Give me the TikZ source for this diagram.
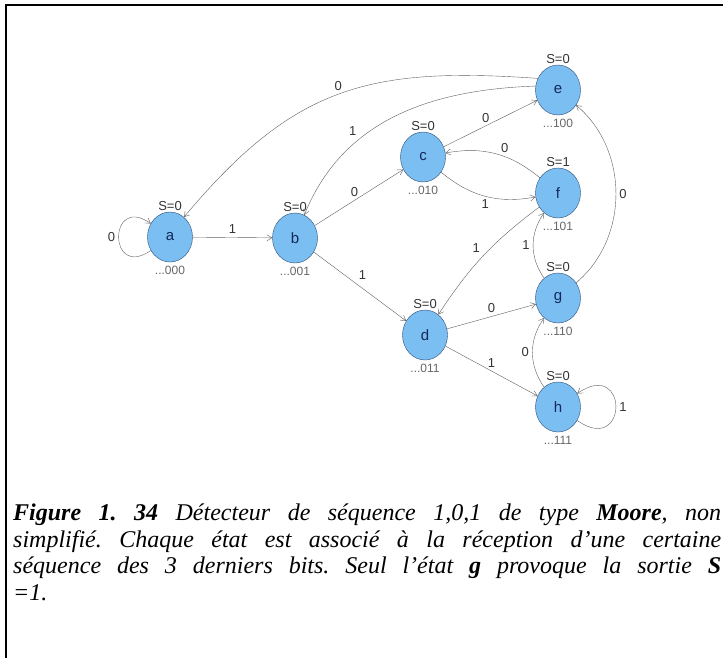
\documentclass[tikz,border=0pt]{standalone}
\usepackage{fontspec}
\setmainfont{Liberation Serif}
\newfontfamily\arialfont{Liberation Sans}
\usetikzlibrary{shapes.geometric, arrows.meta, positioning}
\definecolor{stfill}{RGB}{122,190,242}
\definecolor{stdraw}{RGB}{45,75,115}
\definecolor{stname}{RGB}{20,40,90}
\definecolor{edgegray}{RGB}{95,95,95}
\tikzset{
	state/.style={ellipse, draw=stdraw, fill=stfill, minimum width=45pt, minimum height=50pt, inner sep=0pt, font=\arialfont\fontsize{15}{15}\selectfont, text=stname},
	outlbl/.style={font=\arialfont\fontsize{13}{13}\selectfont, text=black!80, inner sep=1pt},
	seqlbl/.style={font=\arialfont\fontsize{12}{12}\selectfont, text=black!60, inner sep=1pt, label distance=3pt},
	line/.style={draw=edgegray, -{Straight Barb[length=5pt, width=6pt]}},
	bit/.style={font=\arialfont\fontsize{13}{13}\selectfont, text=black!80}
}

\begin{document}
\begin{tikzpicture}[x=1pt, y=1pt]
    \useasboundingbox (0,0) rectangle (723,-657);
    % Frame
    \draw[line width=1.2pt] (6,-700) -- (6,-5) -- (760,-5);
    % States
    \node[state, label={[outlbl]above:S=0}, label={[seqlbl]below:...000}] (a) at (170,-237) {a};
    \node[state, label={[outlbl]above:S=0}, label={[seqlbl]below:...001}] (b) at (295,-238) {b};
    \node[state, label={[outlbl]above:S=0}, label={[seqlbl]below:...010}] (c) at (423,-157) {c};
    \node[state, label={[outlbl]above:S=0}, label={[seqlbl]below:...011}] (d) at (425,-335) {d};
    \node[state, label={[outlbl]above:S=0}, label={[seqlbl]below:...100}] (e) at (558,-90) {e};
    \node[state, label={[outlbl]above:S=1}, label={[seqlbl]below:...101}] (f) at (558,-193) {f};
    \node[state, label={[outlbl]above:S=0}, label={[seqlbl]below:...110}] (g) at (558,-298) {g};
    \node[state, label={[outlbl]above:S=0}, label={[seqlbl]below:...111}] (h) at (558,-407) {h};
    % Transitions
    \draw[line] (a) to[out=215, in=145, looseness=5] node[bit, left] {0} (a);
    \draw[line] (a) -- node[bit, above] {1} (b);
    \draw[line] (e.150) to[out=176, in=50, looseness=1.15] node[bit, above, pos=0.5] {0} (a.55);
    \draw[line] (e.170) to[out=182, in=68] node[bit, above left, pos=0.66] {1} (b.68);
    \draw[line] (b) -- node[bit, above, pos=0.45] {0} (c);
    \draw[line] (b) -- node[bit, above right, pos=0.45] {1} (d);
    \draw[line] (c) -- node[bit, above, pos=0.45] {0} (e);
    \draw[line] (f) to[bend right=25] node[bit, above, pos=0.4] {0} (c);
    \draw[line] (c) to[bend right=25] node[bit, below] {1} (f);
    \draw[line] (f) to[bend right=10] node[bit, above left] {1} (d);
    \draw[line] (g) to[bend left=35] node[bit, left] {1} (f);
    \draw[line] (g) to[bend right=50] node[bit, right] {0} (e);
    \draw[line] (d) -- node[bit, above] {0} (g);
    \draw[line] (d) -- node[bit, above] {1} (h);
    \draw[line] (h) to[bend left=35] node[bit, left] {0} (g);
    \draw[line] (h) to[out=-35, in=35, looseness=6] node[bit, right] {1} (h);
    % Caption
    \node[anchor=north west, text width=708pt, align=justify, inner sep=0pt, font=\fontsize{24}{26.5}\selectfont\itshape\frenchspacing] (caption) at (13,-504)
        {\textbf{Figure 1. 34} Détecteur de séquence 1,0,1 de type \textbf{Moore}, non\linebreak simplifié. Chaque état est associé à la réception d’une certaine\linebreak séquence des 3 derniers bits. Seul l’état \textbf{g} provoque la sortie \textbf{S}\linebreak =1.};
\end{tikzpicture}
\end{document}
